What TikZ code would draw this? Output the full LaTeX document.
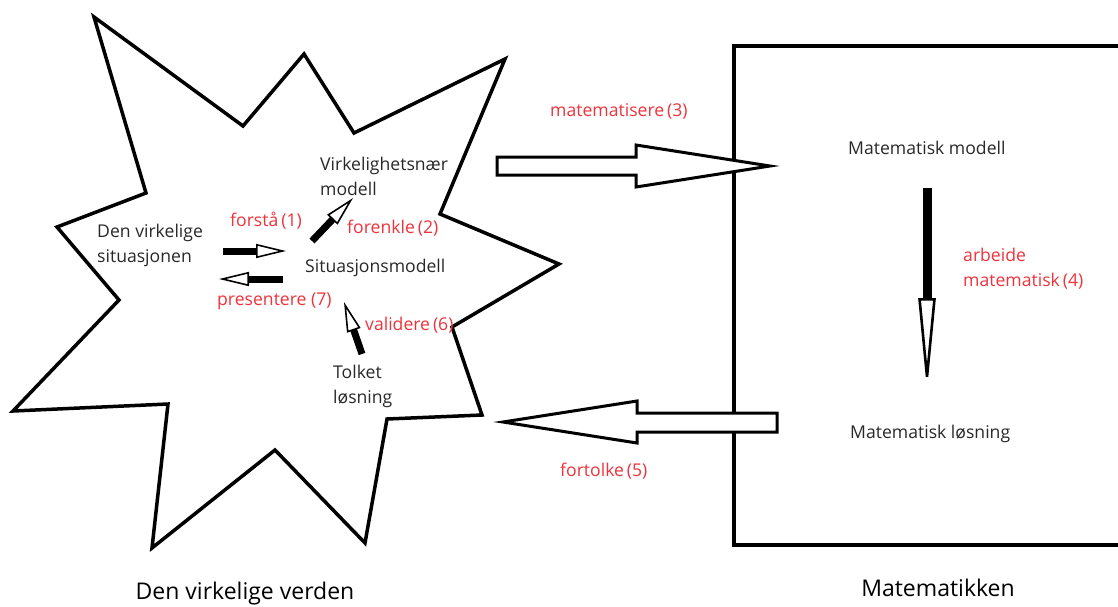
\documentclass[tikz,border=0pt]{standalone}
\usepackage{fontspec}
\setmainfont{Open Sans}
\usetikzlibrary{arrows.meta}
\definecolor{labelred}{RGB}{237,51,59}
\definecolor{textgray}{RGB}{40,40,40}
\begin{document}
\begin{tikzpicture}[x=1pt,y=-1pt,
	every node/.style={inner sep=0pt,anchor=west,align=left,text=textgray,
		font=\fontsize{17.6}{25}\selectfont},
	steplabel/.style={text=labelred},
	worldlabel/.style={anchor=center,text=black,font=\fontsize{23}{27}\selectfont},
	outline/.style={line width=3.5pt,line join=miter},
	blockarrow/.style={line width=3pt,line join=miter,fill=white},
	smallarrow/.style={line width=7pt,
		-{Triangle[open,fill=white,length=30pt,width=14pt,line width=1.6pt]}},
	longarrow/.style={line width=9pt,
		-{Triangle[open,fill=white,length=93pt,width=17pt,line width=2.6pt]}}]
	
	\useasboundingbox (0,0) rectangle (1118,606);
	
	% the real world
	\draw[outline] (94,17) -- (243,126) -- (304,54) -- (354,133) -- (505,59)
		-- (440,214) -- (559,264) -- (452,327) -- (482,415) -- (387,419)
		-- (365,543) -- (275,450) -- (152,548) -- (168,404) -- (13,411)
		-- (119,300) -- (57,227) -- (146,193) -- cycle;
	% mathematics
	\draw[outline] (1125,46) -- (734,46) -- (734,545) -- (1125,545);
	
	\node (situasjon) at (97,245) {Den virkelige\\situasjonen};
	\node (naer) at (320,176) {Virkelighetsnær\\modell};
	\node (sitmodell) at (305,268) {Situasjonsmodell};
	\node (tolket) at (333,386) {Tolket\\løsning};
	\node (matmodell) at (848,148) {Matematisk modell};
	\node (matlosning) at (850,434) {Matematisk løsning};
	
	\node[steplabel] (forsta) at (230,221) {forstå\,(1)};
	\node[steplabel] (forenkle) at (347,228) {forenkle\,(2)};
	\node[steplabel] (matematisere) at (550,111) {matematisere\,(3)};
	\node[steplabel] (arbeide) at (963,269) {arbeide\\matematisk\,(4)};
	\node[steplabel] (fortolke) at (560,471) {fortolke\,(5)};
	\node[steplabel] (validere) at (365,325) {validere\,(6)};
	\node[steplabel] (presentere) at (217,301) {presentere (7)};
	
	\node[worldlabel] (verden) at (245,594) {Den virkelige verden};
	\node[worldlabel] (matematikken) at (938,588) {Matematikken};
	
	% arrows inside the star
	\coordinate (a1) at (223,251);
	\coordinate (b1) at (286,251);
	\coordinate (a2) at (312,241);
	\coordinate (b2) at (353,198);
	\coordinate (a7) at (283,279);
	\coordinate (b7) at (219,279);
	\coordinate (a6) at (362,354);
	\coordinate (b6) at (344,302);
	\draw[smallarrow] (a1) -- (b1);
	\draw[smallarrow] (a2) -- (b2);
	\draw[smallarrow] (a7) -- (b7);
	\draw[smallarrow] (a6) -- (b6);
	
	% arrow down beside the rectangle's text
	\coordinate (a4) at (927,188);
	\coordinate (b4) at (927,391);
	\draw[longarrow] (a4) -- (b4);
	
	% block arrows between the two worlds
	\coordinate (a3) at (497,166);
	\coordinate (b3) at (770,166);
	\draw[blockarrow] (a3) ++(0,-9) -- (636,157) -- (636,145) -- (b3)
		-- (636,187) -- (636,175) -- (497,175) -- cycle;
	\coordinate (a5) at (777,422);
	\coordinate (b5) at (503,422);
	\draw[blockarrow] (a5) ++(0,-9) -- (637,413) -- (637,401) -- (b5)
		-- (637,443) -- (637,432) -- (777,432) -- cycle;
\end{tikzpicture}
\end{document}
